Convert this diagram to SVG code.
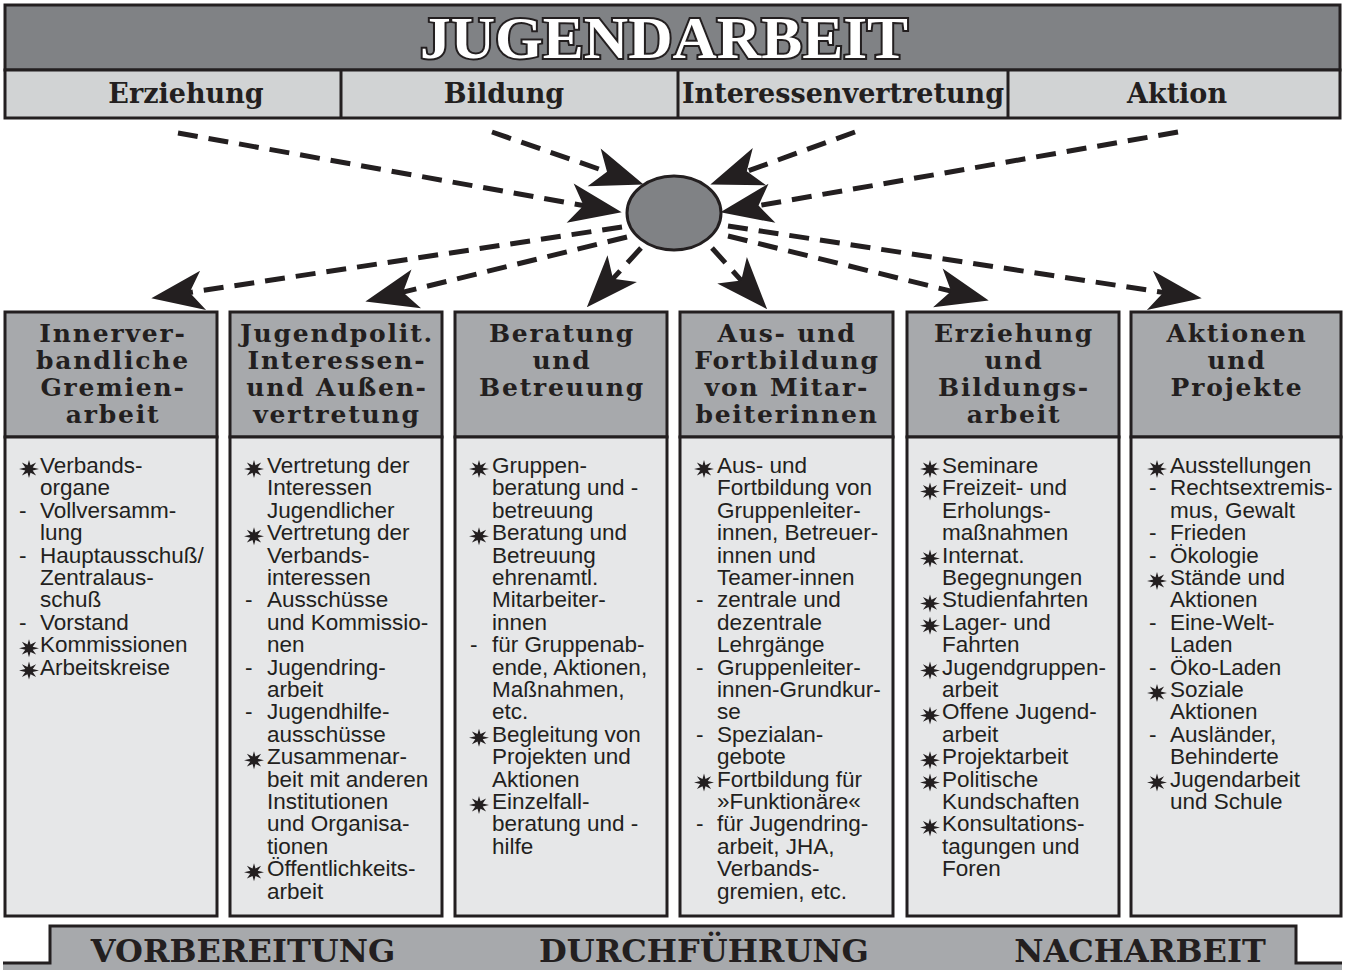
<svg xmlns="http://www.w3.org/2000/svg" xmlns:xlink="http://www.w3.org/1999/xlink" width="1345" height="970" viewBox="0 0 1345 970">
<style>
.box{stroke:#231f20;stroke-width:3}
.dk{fill:#808285}
.lt{fill:#d1d3d4}
.hd{fill:#a7a9ac}
.bd{fill:#e6e7e8}
.ht{font-family:"DejaVu Serif",serif;font-weight:bold;font-size:27px;fill:#231f20;text-anchor:middle}
.ch{font-family:"DejaVu Serif",serif;font-weight:bold;font-size:25px;letter-spacing:1.8px;fill:#231f20;text-anchor:middle}
.bt{font-family:"Liberation Sans",Arial,sans-serif;font-size:22.5px;fill:#231f20}
.ft{font-family:"DejaVu Serif",serif;font-weight:bold;font-size:32px;fill:#231f20;text-anchor:middle}
.ar{fill:none;stroke:#231f20;stroke-width:5;stroke-dasharray:20 11;marker-end:url(#ah)}
</style>
<defs>
<marker id="ah" markerUnits="userSpaceOnUse" markerWidth="60" markerHeight="44" viewBox="-52 -21 56 42" refX="-36" refY="0" orient="auto">
<path d="M0,0 L-50,-19 L-37,0 L-50,19 Z" fill="#231f20"/>
</marker>
<path id="b" d="M10,0 L3.7,1.5 L7.1,6.4 L1.5,3.7 L0,9 L-1.5,3.7 L-7.1,6.4 L-3.7,1.5 L-10,0 L-3.7,-1.5 L-7.1,-6.4 L-1.5,-3.7 L0,-9 L1.5,-3.7 L7.1,-6.4 L3.7,-1.5 Z" fill="#231f20"/>
</defs>
<rect width="1345" height="970" fill="#ffffff"/>

<g id="title">
<rect class="box dk" x="5" y="5" width="1335" height="65"/>
<text x="664" y="58" text-anchor="middle" font-family="Liberation Serif,serif" font-weight="bold" font-size="60" textLength="488" lengthAdjust="spacingAndGlyphs" fill="#ffffff" stroke="#231f20" stroke-width="4" paint-order="stroke fill">JUGENDARBEIT</text>
</g>

<g id="header-row">
<rect class="box lt" x="5" y="70" width="1335" height="48"/>
<line x1="341" y1="70" x2="341" y2="118" stroke="#231f20" stroke-width="3"/>
<line x1="678" y1="70" x2="678" y2="118" stroke="#231f20" stroke-width="3"/>
<line x1="1008" y1="70" x2="1008" y2="118" stroke="#231f20" stroke-width="3"/>
<text class="ht" x="186" y="103">Erziehung</text>
<text class="ht" x="504" y="103">Bildung</text>
<text class="ht" x="843" y="103">Interessenvertretung</text>
<text class="ht" x="1177" y="103">Aktion</text>
</g>

<g id="connectors">
<path class="ar" d="M178,133 L584.6,205.7"/>
<path class="ar" d="M492,132 L608,172.2"/>
<path class="ar" d="M855,132 L745.8,171.7"/>
<path class="ar" d="M1178,132 L757.5,205.8"/>
<path class="ar" d="M622,227 L188.6,292.6"/>
<path class="ar" d="M627,237 L402,292.4"/>
<path class="ar" d="M641,248 L612.3,279.4"/>
<path class="ar" d="M712,248 L741.9,281.2"/>
<path class="ar" d="M728,236 L952.1,291.4"/>
<path class="ar" d="M728,226 L1164.4,292.6"/>
</g>

<g id="center">
<ellipse cx="674" cy="213" rx="47" ry="37" fill="#808285" stroke="#231f20" stroke-width="3"/>
</g>

<g id="col1">
<rect class="box hd" x="5" y="312" width="212" height="125"/>
<rect class="box bd" x="5" y="437" width="212" height="479"/>
<text class="ch"><tspan x="113" y="342">Innerver-</tspan><tspan x="113" y="369">bandliche</tspan><tspan x="113" y="396">Gremien-</tspan><tspan x="113" y="423">arbeit</tspan></text>
<use xlink:href="#b" x="29" y="469"/><use xlink:href="#b" x="29" y="648.2"/><use xlink:href="#b" x="29" y="670.6"/>
<text class="bt"><tspan x="19" y="517.8">-</tspan><tspan x="19" y="562.6">-</tspan><tspan x="19" y="629.8">-</tspan></text>
<text class="bt"><tspan x="40" y="473">Verbands-</tspan><tspan x="40" y="495.4">organe</tspan><tspan x="40" y="517.8">Vollversamm-</tspan><tspan x="40" y="540.2">lung</tspan><tspan x="40" y="562.6">Hauptausschuß/</tspan><tspan x="40" y="585">Zentralaus-</tspan><tspan x="40" y="607.4">schuß</tspan><tspan x="40" y="629.8">Vorstand</tspan><tspan x="40" y="652.2">Kommissionen</tspan><tspan x="40" y="674.6">Arbeitskreise</tspan></text>
</g>

<g id="col2">
<rect class="box hd" x="230" y="312" width="212" height="125"/>
<rect class="box bd" x="230" y="437" width="212" height="479"/>
<text class="ch"><tspan x="337" y="342">Jugendpolit.</tspan><tspan x="337" y="369">Interessen-</tspan><tspan x="337" y="396">und Außen-</tspan><tspan x="337" y="423">vertretung</tspan></text>
<use xlink:href="#b" x="254" y="469"/><use xlink:href="#b" x="254" y="536.2"/><use xlink:href="#b" x="254" y="760.2"/><use xlink:href="#b" x="254" y="872.2"/>
<text class="bt"><tspan x="245" y="607.4">-</tspan><tspan x="245" y="674.6">-</tspan><tspan x="245" y="719.4">-</tspan></text>
<text class="bt"><tspan x="267" y="473">Vertretung der</tspan><tspan x="267" y="495.4">Interessen</tspan><tspan x="267" y="517.8">Jugendlicher</tspan><tspan x="267" y="540.2">Vertretung der</tspan><tspan x="267" y="562.6">Verbands-</tspan><tspan x="267" y="585">interessen</tspan><tspan x="267" y="607.4">Ausschüsse</tspan><tspan x="267" y="629.8">und Kommissio-</tspan><tspan x="267" y="652.2">nen</tspan><tspan x="267" y="674.6">Jugendring-</tspan><tspan x="267" y="697">arbeit</tspan><tspan x="267" y="719.4">Jugendhilfe-</tspan><tspan x="267" y="741.8">ausschüsse</tspan><tspan x="267" y="764.2">Zusammenar-</tspan><tspan x="267" y="786.6">beit mit anderen</tspan><tspan x="267" y="809">Institutionen</tspan><tspan x="267" y="831.4">und Organisa-</tspan><tspan x="267" y="853.8">tionen</tspan><tspan x="267" y="876.2">Öffentlichkeits-</tspan><tspan x="267" y="898.6">arbeit</tspan></text>
</g>

<g id="col3">
<rect class="box hd" x="455" y="312" width="212" height="125"/>
<rect class="box bd" x="455" y="437" width="212" height="479"/>
<text class="ch"><tspan x="562" y="342">Beratung</tspan><tspan x="562" y="369">und</tspan><tspan x="562" y="396">Betreuung</tspan></text>
<use xlink:href="#b" x="479" y="469"/><use xlink:href="#b" x="479" y="536.2"/><use xlink:href="#b" x="479" y="737.8"/><use xlink:href="#b" x="479" y="805"/>
<text class="bt"><tspan x="470" y="652.2">-</tspan></text>
<text class="bt"><tspan x="492" y="473">Gruppen-</tspan><tspan x="492" y="495.4">beratung und -</tspan><tspan x="492" y="517.8">betreuung</tspan><tspan x="492" y="540.2">Beratung und</tspan><tspan x="492" y="562.6">Betreuung</tspan><tspan x="492" y="585">ehrenamtl.</tspan><tspan x="492" y="607.4">Mitarbeiter-</tspan><tspan x="492" y="629.8">innen</tspan><tspan x="492" y="652.2">für Gruppenab-</tspan><tspan x="492" y="674.6">ende, Aktionen,</tspan><tspan x="492" y="697">Maßnahmen,</tspan><tspan x="492" y="719.4">etc.</tspan><tspan x="492" y="741.8">Begleitung von</tspan><tspan x="492" y="764.2">Projekten und</tspan><tspan x="492" y="786.6">Aktionen</tspan><tspan x="492" y="809">Einzelfall-</tspan><tspan x="492" y="831.4">beratung und -</tspan><tspan x="492" y="853.8">hilfe</tspan></text>
</g>

<g id="col4">
<rect class="box hd" x="680" y="312" width="213" height="125"/>
<rect class="box bd" x="680" y="437" width="213" height="479"/>
<text class="ch"><tspan x="787" y="342">Aus- und</tspan><tspan x="787" y="369">Fortbildung</tspan><tspan x="787" y="396">von Mitar-</tspan><tspan x="787" y="423">beiterinnen</tspan></text>
<use xlink:href="#b" x="704" y="469"/><use xlink:href="#b" x="704" y="782.6"/>
<text class="bt"><tspan x="696" y="607.4">-</tspan><tspan x="696" y="674.6">-</tspan><tspan x="696" y="741.8">-</tspan><tspan x="696" y="831.4">-</tspan></text>
<text class="bt"><tspan x="717" y="473">Aus- und</tspan><tspan x="717" y="495.4">Fortbildung von</tspan><tspan x="717" y="517.8">Gruppenleiter-</tspan><tspan x="717" y="540.2">innen, Betreuer-</tspan><tspan x="717" y="562.6">innen und</tspan><tspan x="717" y="585">Teamer-innen</tspan><tspan x="717" y="607.4">zentrale und</tspan><tspan x="717" y="629.8">dezentrale</tspan><tspan x="717" y="652.2">Lehrgänge</tspan><tspan x="717" y="674.6">Gruppenleiter-</tspan><tspan x="717" y="697">innen-Grundkur-</tspan><tspan x="717" y="719.4">se</tspan><tspan x="717" y="741.8">Spezialan-</tspan><tspan x="717" y="764.2">gebote</tspan><tspan x="717" y="786.6">Fortbildung für</tspan><tspan x="717" y="809">»Funktionäre«</tspan><tspan x="717" y="831.4">für Jugendring-</tspan><tspan x="717" y="853.8">arbeit, JHA,</tspan><tspan x="717" y="876.2">Verbands-</tspan><tspan x="717" y="898.6">gremien, etc.</tspan></text>
</g>

<g id="col5">
<rect class="box hd" x="907" y="312" width="212" height="125"/>
<rect class="box bd" x="907" y="437" width="212" height="479"/>
<text class="ch"><tspan x="1014" y="342">Erziehung</tspan><tspan x="1014" y="369">und</tspan><tspan x="1014" y="396">Bildungs-</tspan><tspan x="1014" y="423">arbeit</tspan></text>
<use xlink:href="#b" x="930" y="469"/><use xlink:href="#b" x="930" y="491.4"/><use xlink:href="#b" x="930" y="558.6"/><use xlink:href="#b" x="930" y="603.4"/><use xlink:href="#b" x="930" y="625.8"/><use xlink:href="#b" x="930" y="670.6"/><use xlink:href="#b" x="930" y="715.4"/><use xlink:href="#b" x="930" y="760.2"/><use xlink:href="#b" x="930" y="782.6"/><use xlink:href="#b" x="930" y="827.4"/>
<text class="bt"><tspan x="942" y="473">Seminare</tspan><tspan x="942" y="495.4">Freizeit- und</tspan><tspan x="942" y="517.8">Erholungs-</tspan><tspan x="942" y="540.2">maßnahmen</tspan><tspan x="942" y="562.6">Internat.</tspan><tspan x="942" y="585">Begegnungen</tspan><tspan x="942" y="607.4">Studienfahrten</tspan><tspan x="942" y="629.8">Lager- und</tspan><tspan x="942" y="652.2">Fahrten</tspan><tspan x="942" y="674.6">Jugendgruppen-</tspan><tspan x="942" y="697">arbeit</tspan><tspan x="942" y="719.4">Offene Jugend-</tspan><tspan x="942" y="741.8">arbeit</tspan><tspan x="942" y="764.2">Projektarbeit</tspan><tspan x="942" y="786.6">Politische</tspan><tspan x="942" y="809">Kundschaften</tspan><tspan x="942" y="831.4">Konsultations-</tspan><tspan x="942" y="853.8">tagungen und</tspan><tspan x="942" y="876.2">Foren</tspan></text>
</g>

<g id="col6">
<rect class="box hd" x="1131" y="312" width="210" height="125"/>
<rect class="box bd" x="1131" y="437" width="210" height="479"/>
<text class="ch"><tspan x="1237" y="342">Aktionen</tspan><tspan x="1237" y="369">und</tspan><tspan x="1237" y="396">Projekte</tspan></text>
<use xlink:href="#b" x="1157" y="469"/><use xlink:href="#b" x="1157" y="581"/><use xlink:href="#b" x="1157" y="693"/><use xlink:href="#b" x="1157" y="782.6"/>
<text class="bt"><tspan x="1149" y="495.4">-</tspan><tspan x="1149" y="540.2">-</tspan><tspan x="1149" y="562.6">-</tspan><tspan x="1149" y="629.8">-</tspan><tspan x="1149" y="674.6">-</tspan><tspan x="1149" y="741.8">-</tspan></text>
<text class="bt"><tspan x="1170" y="473">Ausstellungen</tspan><tspan x="1170" y="495.4">Rechtsextremis-</tspan><tspan x="1170" y="517.8">mus, Gewalt</tspan><tspan x="1170" y="540.2">Frieden</tspan><tspan x="1170" y="562.6">Ökologie</tspan><tspan x="1170" y="585">Stände und</tspan><tspan x="1170" y="607.4">Aktionen</tspan><tspan x="1170" y="629.8">Eine-Welt-</tspan><tspan x="1170" y="652.2">Laden</tspan><tspan x="1170" y="674.6">Öko-Laden</tspan><tspan x="1170" y="697">Soziale</tspan><tspan x="1170" y="719.4">Aktionen</tspan><tspan x="1170" y="741.8">Ausländer,</tspan><tspan x="1170" y="764.2">Behinderte</tspan><tspan x="1170" y="786.6">Jugendarbeit</tspan><tspan x="1170" y="809">und Schule</tspan></text>
</g>

<g id="footer">
<path d="M3,972 L3,963 L50,963 L50,926 L1296,926 L1296,963 L1342,963 L1342,972 Z" fill="#a7a9ac"/>
<path d="M3,963 L50,963 L50,926 L1296,926 L1296,963 L1342,963" fill="none" stroke="#231f20" stroke-width="3"/>
<text class="ft" x="243" y="962">VORBEREITUNG</text>
<text class="ft" x="704" y="962">DURCHFÜHRUNG</text>
<text class="ft" x="1140" y="962">NACHARBEIT</text>
</g>
</svg>
